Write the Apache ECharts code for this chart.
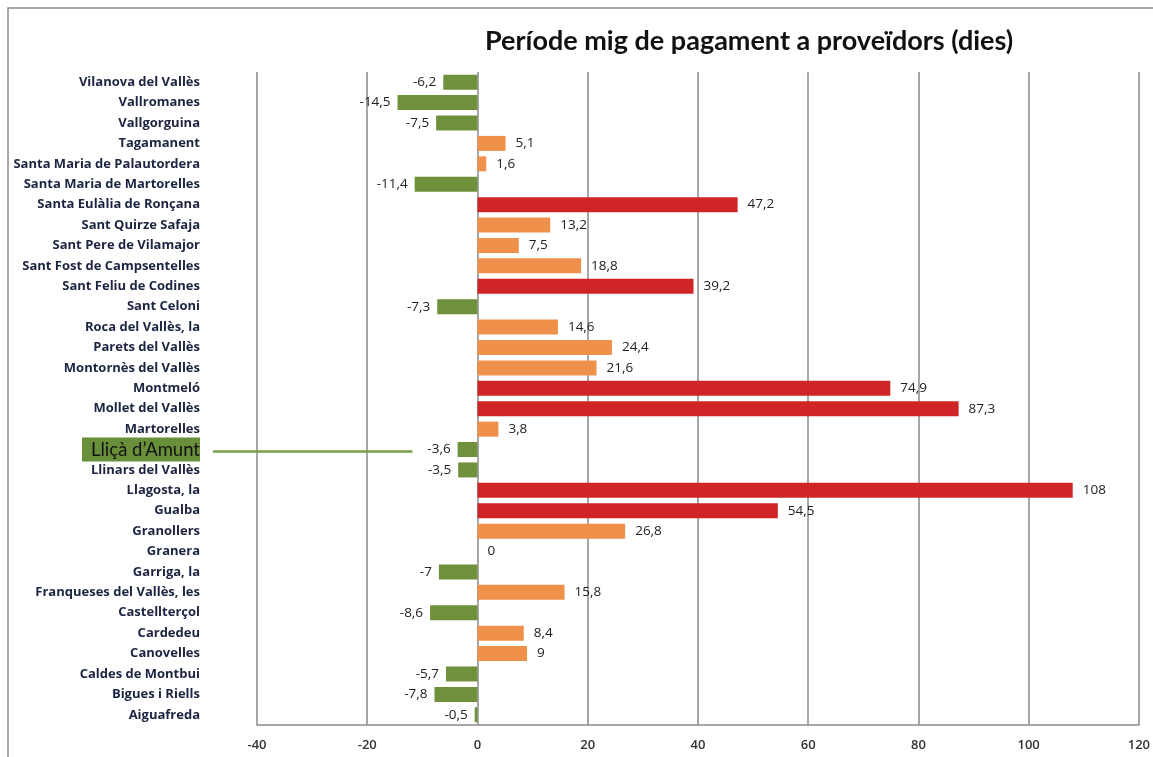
<!DOCTYPE html>
<html>
<head>
<meta charset="utf-8">
<script src="https://cdn.jsdelivr.net/npm/echarts@6/dist/echarts.min.js"></script>
<style>
html,body{margin:0;padding:0;background:#fff;}
#chart{width:1153px;height:757px;}
</style>
</head>
<body>
<div id="chart"></div>
<script>
const categories = [
  "Vilanova del Vallès","Vallromanes","Vallgorguina","Tagamanent",
  "Santa Maria de Palautordera","Santa Maria de Martorelles","Santa Eulàlia de Ronçana",
  "Sant Quirze Safaja","Sant Pere de Vilamajor","Sant Fost de Campsentelles",
  "Sant Feliu de Codines","Sant Celoni","Roca del Vallès, la","Parets del Vallès",
  "Montornès del Vallès","Montmeló","Mollet del Vallès","Martorelles","Lliçà d’Amunt",
  "Llinars del Vallès","Llagosta, la","Gualba","Granollers","Granera","Garriga, la",
  "Franqueses del Vallès, les","Castellterçol","Cardedeu","Canovelles",
  "Caldes de Montbui","Bigues i Riells","Aiguafreda"
];
const values = [
  -6.2,-14.5,-7.5,5.1,
  1.6,-11.4,47.2,
  13.2,7.5,18.8,
  39.2,-7.3,14.6,24.4,
  21.6,74.9,87.3,3.8,-3.6,
  -3.5,108,54.5,26.8,0,-7,
  15.8,-8.6,8.4,9,
  -5.7,-7.8,-0.5
];
const xTicks = [-40,-20,0,20,40,60,80,100,120];
const titleText = "Període mig de pagament a proveïdors (dies)";
const highlighted = "Lliçà d’Amunt";

const GREEN = '#6f913d', ORANGE = '#f0914b', RED = '#d02527';
function colorFor(v){ return v < 0 ? GREEN : (v > 30 ? RED : ORANGE); }
const FONT = '"Open Sans", Lato, sans-serif';
const TFONT = 'Lato, "Open Sans", sans-serif';

const frame = {
  type: 'rect', shape: {x: 8, y: 8, width: 1200, height: 800},
  style: {fill: 'none', stroke: '#8a8a8a', lineWidth: 1.5}, silent: true
};

const chart = echarts.init(document.getElementById('chart'));
chart.setOption({
  animation: false,
  backgroundColor: '#fff',
  title: {
    text: titleText, left: 480, top: 23,
    textStyle: {fontFamily: TFONT, fontWeight: 'bold', fontSize: 27, color: '#111'}
  },
  grid: {left: 257, right: 12, top: 72, bottom: 32, containLabel: false},
  xAxis: {
    type: 'value', min: xTicks[0], max: xTicks[xTicks.length-1], interval: 20,
    axisLine: {show: true, lineStyle: {color: '#8a8a8a', width: 1.5}},
    axisTick: {show: false},
    splitLine: {show: true, lineStyle: {color: '#8a8a8a', width: 1.5}},
    axisLabel: {fontFamily: FONT, fontWeight: 600, fontSize: 13, color: '#333', margin: 14}
  },
  yAxis: {
    type: 'category', data: categories, inverse: true,
    axisLine: {show: false}, axisTick: {show: false},
    axisLabel: {
      margin: 57, fontFamily: FONT, fontWeight: 'bold', fontSize: 13, color: '#1b2440',
      formatter: function(v){ return v === highlighted ? '{hl|' + v + '}' : v; },
      rich: {
        hl: {fontFamily: TFONT, fontWeight: 'normal', fontSize: 18.5, color: '#111',
             backgroundColor: '#6a8f3a', padding: [3, 0, 2, 9]}
      }
    }
  },
  series: [{
    type: 'bar',
    data: values.map(v => ({value: v, itemStyle: {color: colorFor(v)},
      label: {position: v < 0 ? 'left' : 'right', distance: v < 0 ? 7 : 10}})),
    barWidth: 15,
    label: {
      show: true, fontFamily: FONT, fontSize: 13.5, color: '#222',
      formatter: p => String(p.value).replace('.', ',')
    }
  }],
  graphic: [frame]
});

const idx = categories.indexOf(highlighted);
const pEnd = chart.convertToPixel({gridIndex: 0}, [-11.8, idx]);
chart.setOption({
  graphic: [frame, {
    type: 'line', shape: {x1: 213, y1: pEnd[1] + 2, x2: pEnd[0], y2: pEnd[1] + 2},
    style: {stroke: '#77a04a', lineWidth: 2.5}, silent: true, z: 10
  }]
});
</script>
</body>
</html>
